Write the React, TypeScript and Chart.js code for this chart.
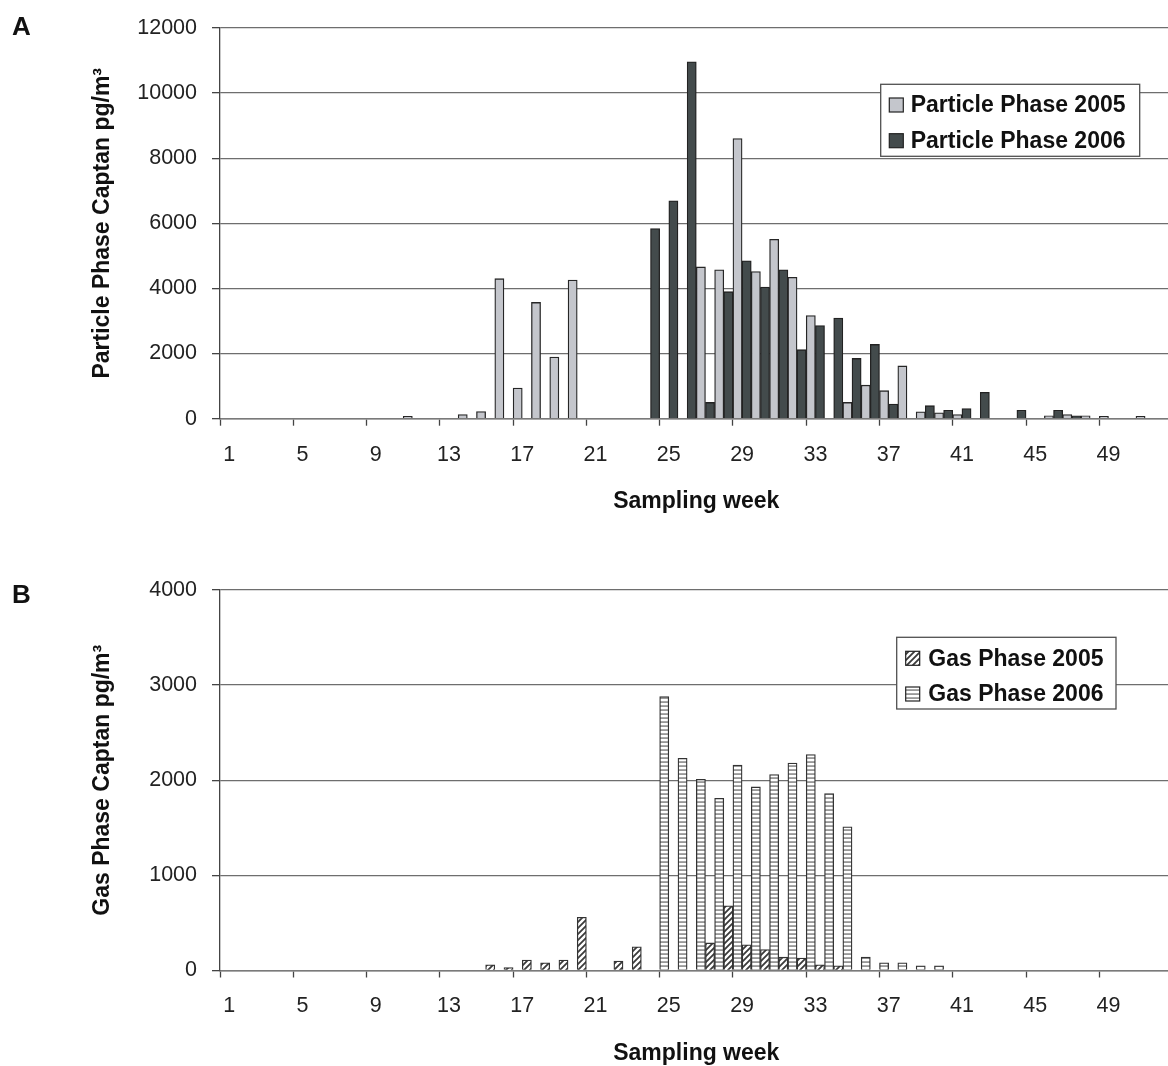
import React, { useEffect, useRef } from 'react';
import { Chart, registerables } from 'chart.js';

Chart.register(...registerables);

const FONT = '"Liberation Sans", Arial, Helvetica, sans-serif';

// ---------- data ----------
const weeks = [
  '1', '2', '3', '4', '5', '6', '7', '8', '9', '10',
  '11', '12', '13', '14', '15', '16', '17', '18', '19', '20',
  '21', '22', '23', '24', '25', '26', '27', '28', '29', '30',
  '31', '32', '33', '34', '35', '36', '37', '38', '39', '40',
  '41', '42', '43', '44', '45', '46', '47', '48', '49', '50',
  '51', '52',
];
// gas panel bars sit centred on the week boundaries; one spare slot closes the axis
const gasSlots = [...weeks, ''];

const particle2005 = [
  null, null, null, null, null, null, null, null, null, null,
  70, null, null, 130, 220, 4300, 940, 3570, 1890, 4260,
  null, null, null, null, null, null, 4660, 4570, 8600, 4520,
  5510, 4340, 3170, null, 500, 1030, 860, 1620, 210, 180,
  130, null, null, null, null, 90, 130, 90, 70, null,
  70, null,
];

const particle2006 = [
  null, null, null, null, null, null, null, null, null, null,
  null, null, null, null, null, null, null, null, null, null,
  null, null, null, 5840, 6690, 10960, 500, 3900, 4850, 4040,
  4570, 2120, 2860, 3090, 1850, 2280, 450, null, 400, 260,
  310, 810, null, 260, null, 260, 90, null, null, null,
  null, null,
];

const gas2005 = [
  null, null, null, null, null, null, null, null, null, null,
  null, null, null, null, null, 60, 30, 110, 80, 110,
  560, null, 100, 250, null, null, null, 290, 680, 270,
  220, 140, 130, 60, 50, null, null, null, null, null,
  null, null, null, null, null, null, null, null, null, null,
  null, null,
];

const gas2006 = [
  null, null, null, null, null, null, null, null, null, null,
  null, null, null, null, null, null, null, null, null, null,
  null, null, null, null, 2880, 2230, 2010, 1810, 2160, 1930,
  2060, 2180, 2270, 1860, 1510, 140, 80, 80, 50, 50,
  null, null, null, null, null, null, null, null, null, null,
  null, null,
];

const particleLabels = ['Particle Phase 2005', 'Particle Phase 2006'];
const gasLabels = ['Gas Phase 2005', 'Gas Phase 2006'];

// ---------- helpers ----------
function makeDiagPattern(): CanvasPattern | string {
  const s = 6;
  const c = document.createElement('canvas');
  c.width = s; c.height = s;
  const g = c.getContext('2d');
  if (!g) return '#888';
  g.fillStyle = '#ffffff';
  g.fillRect(0, 0, s, s);
  g.strokeStyle = '#3a3a3a';
  g.lineWidth = 1.8;
  g.beginPath();
  g.moveTo(-1, 1); g.lineTo(1, -1);
  g.moveTo(0, s); g.lineTo(s, 0);
  g.moveTo(s - 1, s + 1); g.lineTo(s + 1, s - 1);
  g.stroke();
  return g.createPattern(c, 'repeat') || '#888';
}

function makeHorizPattern(): CanvasPattern | string {
  const c = document.createElement('canvas');
  c.width = 8; c.height = 4;
  const g = c.getContext('2d');
  if (!g) return '#ccc';
  g.fillStyle = '#ffffff';
  g.fillRect(0, 0, 8, 4);
  g.fillStyle = '#555555';
  g.fillRect(0, 1.5, 8, 1.1);
  return g.createPattern(c, 'repeat') || '#ccc';
}

const boxLegend = {
  id: 'boxLegend',
  afterDraw(chart: any, _args: any, opts: any) {
    if (!opts || !opts.box) return;
    const { ctx } = chart;
    const { x, y, w, h } = opts.box;
    ctx.save();
    ctx.fillStyle = '#ffffff';
    ctx.fillRect(x, y, w, h);
    ctx.strokeStyle = '#505050';
    ctx.lineWidth = 1.3;
    ctx.strokeRect(x, y, w, h);
    chart.data.datasets.forEach((ds: any, i: number) => {
      const cy = opts.rows[i];
      const sw = opts.swatch;
      ctx.fillStyle = ds.backgroundColor;
      ctx.fillRect(opts.swatchX, cy - sw / 2, sw, sw);
      ctx.strokeStyle = '#222';
      ctx.lineWidth = 1.2;
      ctx.strokeRect(opts.swatchX, cy - sw / 2, sw, sw);
      ctx.fillStyle = '#111';
      ctx.font = `bold 23px ${FONT}`;
      ctx.textBaseline = 'middle';
      ctx.textAlign = 'left';
      ctx.fillText(ds.label, opts.textX, cy + 1);
    });
    ctx.restore();
  },
};

type PanelProps = {
  top: number;
  height: number;
  chartTop: number;
  chartBottom: number;
  titleY: number;
  yMax: number;
  yStep: number;
  yTitle: string;
  kind: 'particle' | 'gas';
  legend: any;
};

const CANVAS_W = 1180;
const PLOT_LEFT = 220;
const PLOT_RIGHT = 1172.6;
const TITLE_SIZE = 23;
const TITLE_LH = TITLE_SIZE * 1.2;

function Panel(p: PanelProps) {
  const ref = useRef<HTMLCanvasElement | null>(null);
  useEffect(() => {
    if (!ref.current) return;
    Chart.defaults.font.family = FONT;
    Chart.defaults.color = '#222';
    let datasets: any[];
    if (p.kind === 'particle') {
      datasets = [
        {
          label: particleLabels[0], data: particle2005,
          backgroundColor: '#c4c6cc', borderColor: '#262626', borderWidth: 1.3,
          categoryPercentage: 1, barPercentage: 1,
        },
        {
          label: particleLabels[1], data: particle2006,
          backgroundColor: '#434b4c', borderColor: '#222', borderWidth: 1.3,
          categoryPercentage: 1, barPercentage: 1,
        },
      ];
    } else {
      datasets = [
        {
          label: gasLabels[0], data: gas2005, xAxisID: 'xb',
          backgroundColor: makeDiagPattern(), borderColor: '#333', borderWidth: 1.3,
          categoryPercentage: 1, barPercentage: 1,
        },
        {
          label: gasLabels[1], data: gas2006, xAxisID: 'xb',
          backgroundColor: makeHorizPattern(), borderColor: '#333', borderWidth: 1.3,
          categoryPercentage: 1, barPercentage: 1,
        },
      ];
    }
    const xScaleH = p.height - (p.chartBottom - p.top);
    const xTitlePad = (p.top + p.height - p.titleY) - TITLE_LH / 2;
    const scales: any = {
      x: {
        offset: true,
        afterFit: (s: any) => { s.height = xScaleH; },
        grid: {
          offset: true,
          drawOnChartArea: false,
          drawTicks: true,
          tickLength: 7,
          tickWidth: 1.3,
          tickColor: (ctx: any) => (ctx.index % 4 === 0 ? '#444' : 'rgba(0,0,0,0)'),
        },
        border: { display: true, color: '#7a7a7a', width: 1.5 },
        ticks: {
          autoSkip: false,
          maxRotation: 0,
          minRotation: 0,
          padding: 16,
          color: '#222',
          font: { size: 21.5 },
          callback: (_v: any, i: number) => (i % 4 === 0 ? weeks[i] : ''),
        },
        title: {
          display: true,
          text: 'Sampling week',
          color: '#111',
          font: { size: TITLE_SIZE, weight: 'bold' },
          padding: { top: 0, bottom: xTitlePad },
        },
      },
      y: {
        min: 0,
        max: p.yMax,
        afterFit: (s: any) => { s.width = PLOT_LEFT; },
        grid: {
          color: '#6e6e6e',
          lineWidth: 1.3,
          drawTicks: true,
          tickLength: 8,
          tickColor: '#444',
        },
        border: { display: true, color: '#444', width: 1.3 },
        ticks: {
          stepSize: p.yStep,
          padding: 15,
          color: '#222',
          font: { size: 21.5 },
          callback: (v: any) => String(v),
        },
        title: {
          display: true,
          text: p.yTitle,
          color: '#111',
          font: { size: TITLE_SIZE, weight: 'bold' },
          padding: { top: 103 - TITLE_LH / 2, bottom: 0 },
        },
      },
    };
    if (p.kind === 'gas') {
      scales.xb = {
        type: 'category',
        labels: gasSlots,
        position: 'bottom',
        display: false,
        offset: false,
      };
    }
    const chart = new Chart(ref.current, {
      type: 'bar',
      data: { labels: weeks, datasets },
      plugins: [boxLegend],
      options: {
        responsive: false,
        animation: false,
        devicePixelRatio: 1,
        layout: { padding: { left: 0, top: p.chartTop - p.top, right: CANVAS_W - PLOT_RIGHT, bottom: 0 } },
        plugins: {
          legend: { display: false },
          tooltip: { enabled: false },
          boxLegend: p.legend,
        } as any,
        scales,
      } as any,
    });
    return () => chart.destroy();
  }, []);
  return (
    <canvas
      ref={ref}
      width={CANVAS_W}
      height={p.height}
      style={{ position: 'absolute', left: 0, top: p.top, width: CANVAS_W, height: p.height }}
    />
  );
}

const panelLabelStyle: React.CSSProperties = {
  position: 'absolute',
  left: 12,
  fontFamily: FONT,
  fontWeight: 'bold',
  fontSize: 26,
  lineHeight: '26px',
  color: '#111',
};

export default function App() {
  const topB = 540;
  return (
    <div
      style={{
        position: 'fixed', left: 0, top: 0, width: 1168, height: 1066,
        overflow: 'hidden', background: '#ffffff',
      }}
    >
      <Panel
        top={0}
        height={530}
        chartTop={23.3}
        chartBottom={418.7}
        titleY={502}
        yMax={12000}
        yStep={2000}
        yTitle="Particle Phase Captan pg/m³"
        kind="particle"
        legend={{
          box: { x: 880.7, y: 84.3, w: 259, h: 72 },
          rows: [105, 140.7],
          swatch: 14,
          swatchX: 889.3,
          textX: 910.7,
        }}
      />
      <Panel
        top={topB}
        height={540}
        chartTop={590}
        chartBottom={970.5}
        titleY={1054}
        yMax={4000}
        yStep={1000}
        yTitle="Gas Phase Captan pg/m³"
        kind="gas"
        legend={{
          box: { x: 896.7, y: 637.3 - topB, w: 219.3, h: 71.7 },
          rows: [658.3 - topB, 694 - topB],
          swatch: 14,
          swatchX: 905.7,
          textX: 928.3,
        }}
      />
      <div style={{ ...panelLabelStyle, top: 13.3 }}>A</div>
      <div style={{ ...panelLabelStyle, top: 581 }}>B</div>
    </div>
  );
}
